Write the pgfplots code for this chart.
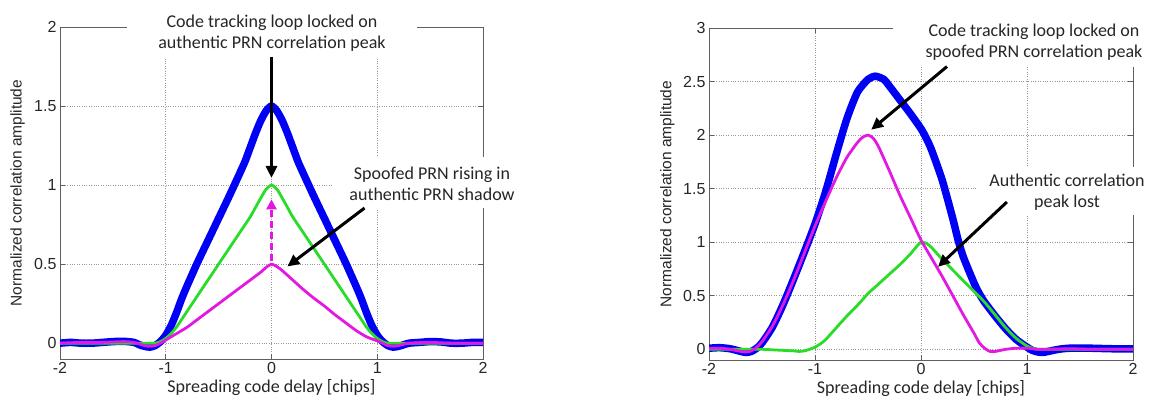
\documentclass[border=0pt]{standalone}
\usepackage{pgfplots}
\pgfplotsset{compat=1.18}
\usepackage{fontspec}
\setmainfont{Carlito}
\newfontfamily\arial{Liberation Sans}
\usetikzlibrary{arrows.meta}
\definecolor{mblue}{RGB}{0,0,245}
\definecolor{mgreen}{RGB}{40,220,40}
\definecolor{mmag}{RGB}{225,25,225}
\definecolor{framec}{RGB}{95,95,95}
\pgfplotsset{
 mystyle/.style={
  scale only axis, width=423pt, height=332pt, xmin=-2, xmax=2, ymin=-0.1,
  xtick={-2,-1,0,1,2}, xticklabels={-2,-1,0,1,2},
  grid=major, major grid style={dotted, line width=0.7pt, black!40},
  tick align=inside, major tick length=5pt,
  tick style={framec, line width=0.7pt},
  axis line style={framec, line width=0.8pt},
  tick label style={font=\arial\fontsize{16}{19}\selectfont, text=black!85},
  xlabel={Spreading code delay [chips]},
  ylabel={Normalized correlation amplitude},
  xlabel style={font=\fontsize{18}{21}\selectfont, text=black!85, at={(axis description cs:0.5,-0.087)}, anchor=center},
  ylabel style={font=\arial\fontsize{15.5}{18}\selectfont, text=black!85, at={(axis description cs:-0.100,0.5)}, anchor=center},
  every axis plot/.append style={line join=round, line cap=round, smooth, tension=0.4},
 }
}
\tikzset{annot/.style={align=center, font=\fontsize{18}{21}\selectfont, text=black!85},
 blackarrow/.style={black, line width=3pt, -{Triangle[length=12pt,width=11pt]}}}
\begin{document}
\begin{tikzpicture}
\useasboundingbox (0pt,0pt) rectangle (1149pt,398pt);
% ---------------- left axis
\begin{axis}[mystyle, at={(60pt,39pt)}, anchor=south west, ymax=2,
  ytick={0,0.5,1,1.5,2}, yticklabels={0,0.5,1,1.5,2}]
\addplot[mblue, line width=7.5pt] coordinates {
(-2,0) (-1.9,0.005) (-1.8,0) (-1.7,0) (-1.6,0.005) (-1.5,0.01) (-1.4,0.012) (-1.3,0.005)
(-1.25,-0.01) (-1.2,-0.02) (-1.15,-0.025) (-1.1,-0.015) (-1.05,0.01) (-1,0.05) (-0.95,0.11)
(-0.9,0.19) (-0.85,0.28) (-0.8,0.36) (-0.7,0.51) (-0.6,0.65) (-0.5,0.79) (-0.4,0.93)
(-0.3,1.075) (-0.25,1.15) (-0.2,1.24) (-0.15,1.33) (-0.1,1.41) (-0.05,1.47) (0,1.5)
(0.05,1.47) (0.1,1.41) (0.15,1.33) (0.2,1.24) (0.25,1.15) (0.3,1.075) (0.4,0.93) (0.5,0.79)
(0.6,0.65) (0.7,0.51) (0.8,0.36) (0.85,0.28) (0.9,0.19) (0.95,0.11) (1,0.05) (1.05,0.01)
(1.1,-0.015) (1.15,-0.025) (1.2,-0.02) (1.25,-0.01) (1.3,0) (1.4,0.005) (1.5,0.01) (1.6,0.008)
(1.7,0) (1.8,0) (1.9,0.005) (2,0.005)};
\addplot[mgreen, line width=2.8pt] coordinates {
(-2,0) (-1.5,0) (-1.2,0) (-1.1,0) (-1.05,0.01) (-1,0.03) (-0.95,0.06) (-0.9,0.1) (-0.8,0.2)
(-0.7,0.3) (-0.6,0.4) (-0.5,0.5) (-0.4,0.6) (-0.3,0.7) (-0.2,0.8) (-0.15,0.86) (-0.1,0.92)
(-0.05,0.975) (0,1) (0.05,0.975) (0.1,0.92) (0.15,0.86) (0.2,0.8) (0.3,0.7) (0.4,0.6) (0.5,0.5)
(0.6,0.4) (0.7,0.3) (0.8,0.2) (0.9,0.1) (0.95,0.06) (1,0.03) (1.05,0.01) (1.1,0) (1.2,0) (1.5,0) (2,0)};
\addplot[mmag, line width=2.8pt] coordinates {
(-2,0) (-1.8,0.005) (-1.6,0.005) (-1.4,0.01) (-1.3,0.005) (-1.2,-0.015) (-1.15,-0.02)
(-1.1,-0.015) (-1.05,0) (-1,0.02) (-0.9,0.06) (-0.8,0.1) (-0.7,0.15) (-0.6,0.2) (-0.5,0.25)
(-0.4,0.3) (-0.3,0.35) (-0.2,0.4) (-0.1,0.45) (-0.05,0.48) (0,0.5) (0.05,0.485) (0.1,0.46)
(0.2,0.4) (0.3,0.34) (0.4,0.285) (0.5,0.235) (0.6,0.18) (0.7,0.13) (0.8,0.08) (0.9,0.04)
(1,0.015) (1.05,0) (1.1,-0.015) (1.15,-0.02) (1.2,-0.015) (1.3,0) (1.5,0.005) (1.7,0) (2,0)};
\coordinate (LA1s) at (axis cs:0,1.81);
\coordinate (LA1e) at (axis cs:0,1.045);
\coordinate (LA2s) at (axis cs:0.88,0.855);
\coordinate (LA2e) at (axis cs:0.15,0.485);
\coordinate (LDs) at (axis cs:0,0.52);
\coordinate (LDe) at (axis cs:0,0.91);
\end{axis}
% ---------------- right axis
\begin{axis}[mystyle, at={(709pt,38pt)}, anchor=south west, width=424pt, ymax=3,
  ytick={0,0.5,1,1.5,2,2.5,3}, yticklabels={0,0.5,1,1.5,2,2.5,3},
  ylabel style={at={(axis description cs:-0.098,0.5)}}]
\addplot[mblue, line width=7.5pt] coordinates {
(-2,0.01) (-1.9,0.015) (-1.8,0.005) (-1.7,-0.02) (-1.65,-0.03) (-1.6,-0.02) (-1.55,0.01)
(-1.5,0.06) (-1.4,0.21) (-1.3,0.42) (-1.2,0.66) (-1.1,0.91) (-1,1.17) (-0.9,1.47) (-0.8,1.82)
(-0.7,2.15) (-0.6,2.4) (-0.5,2.52) (-0.43,2.55) (-0.35,2.52) (-0.3,2.46) (-0.2,2.33) (-0.1,2.2)
(0,2.06) (0.05,1.97) (0.1,1.86) (0.2,1.58) (0.3,1.22) (0.35,1.02) (0.4,0.86) (0.5,0.62)
(0.55,0.52) (0.6,0.44) (0.7,0.31) (0.8,0.19) (0.9,0.09) (1,0.02) (1.05,-0.01) (1.1,-0.025)
(1.15,-0.03) (1.2,-0.02) (1.3,0) (1.4,0.01) (1.6,0.01) (1.8,0.005) (2,0.005)};
\addplot[mgreen, line width=2.8pt] coordinates {
(-2,0) (-1.8,0) (-1.6,0) (-1.5,0) (-1.4,-0.005) (-1.3,-0.01) (-1.2,-0.015) (-1.15,-0.02)
(-1.1,-0.015) (-1.05,0) (-1,0.02) (-0.95,0.05) (-0.9,0.09) (-0.8,0.2) (-0.7,0.31) (-0.6,0.41)
(-0.5,0.52) (-0.4,0.61) (-0.3,0.7) (-0.2,0.79) (-0.1,0.89) (-0.05,0.95) (0,1) (0.05,0.99)
(0.1,0.95) (0.2,0.84) (0.3,0.74) (0.4,0.64) (0.5,0.54) (0.6,0.44) (0.7,0.32) (0.8,0.2)
(0.9,0.1) (1,0.03) (1.05,0.01) (1.1,0) (1.2,0) (1.4,0) (1.6,0) (2,0)};
\addplot[mmag, line width=2.8pt] coordinates {
(-2,0.01) (-1.9,0.01) (-1.8,0) (-1.7,-0.02) (-1.65,-0.025) (-1.6,-0.015) (-1.55,0.02)
(-1.5,0.07) (-1.4,0.22) (-1.3,0.42) (-1.2,0.65) (-1.1,0.9) (-1,1.15) (-0.9,1.38) (-0.8,1.6)
(-0.7,1.79) (-0.6,1.93) (-0.55,1.98) (-0.5,2) (-0.45,1.97) (-0.4,1.89) (-0.3,1.67) (-0.2,1.44)
(-0.1,1.23) (0,1.02) (0.1,0.85) (0.2,0.68) (0.3,0.5) (0.4,0.32) (0.5,0.15) (0.55,0.06)
(0.6,0.01) (0.65,-0.02) (0.7,-0.02) (0.8,0) (0.9,0.01) (1,0.01) (1.1,0) (1.2,0) (1.4,0.005)
(1.6,0) (1.8,0) (2,0)};
\coordinate (RA1s) at (axis cs:0.245,2.64);
\coordinate (RA1e) at (axis cs:-0.47,2.05);
\coordinate (RA2s) at (axis cs:0.81,1.375);
\coordinate (RA2e) at (axis cs:0.16,0.77);
\end{axis}
% ---------------- annotation boxes
\fill[white] (127pt,341pt) rectangle (417pt,398pt);
\fill[white] (332pt,190pt) rectangle (525pt,241pt);
\fill[white] (893pt,331pt) rectangle (1149pt,398pt);
\fill[white] (977pt,183pt) rectangle (1149pt,231pt);
\node[annot] at (272pt,365pt) {Code tracking loop locked on\\authentic PRN correlation peak};
\node[annot] at (432pt,214pt) {Spoofed PRN rising in\\authentic PRN shadow};
\node[annot] at (1034pt,356pt) {Code tracking loop locked on\\spoofed PRN correlation peak};
\node[annot] at (1067pt,206pt) {Authentic correlation\\peak lost};
\draw[blackarrow] (LA1s) -- (LA1e);
\draw[blackarrow] (LA2s) -- (LA2e);
\draw[mmag, line width=3pt, dash pattern=on 7pt off 4pt, -{Triangle[length=10pt,width=10pt]}] (LDs) -- (LDe);
\draw[blackarrow] (RA1s) -- (RA1e);
\draw[blackarrow] (RA2s) -- (RA2e);
\end{tikzpicture}
\end{document}
